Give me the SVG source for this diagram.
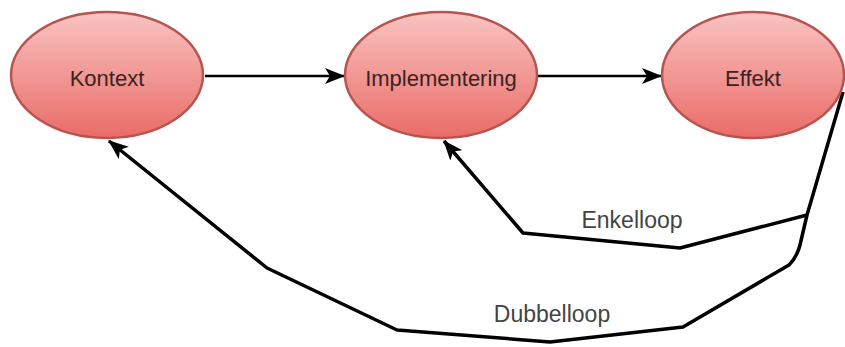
<svg xmlns="http://www.w3.org/2000/svg" width="845" height="347" viewBox="0 0 845 347">
  <style>
    .node { stroke: #b85450; stroke-width: 2.5; fill: url(#redGrad); }
    .nlabel { font-family: "Liberation Sans", Arial, sans-serif; font-size: 22px; fill: #3b2222; text-anchor: middle; }
    .elabel { font-family: "Liberation Sans", Arial, sans-serif; font-size: 23px; fill: #444444; text-anchor: middle; }
    .edge { fill: none; stroke: #000000; stroke-linejoin: round; stroke-linecap: butt; }
    .straight { stroke-width: 2.5; }
    .loop { stroke-width: 3.5; }
  </style>
  <defs>
    <linearGradient id="redGrad" x1="0" y1="0" x2="0" y2="1">
      <stop offset="0" stop-color="#f8c4c2"/>
      <stop offset="1" stop-color="#ea6b66"/>
    </linearGradient>
    <marker id="arrow" viewBox="0 0 20 16" refX="19" refY="8" markerWidth="20" markerHeight="16" markerUnits="userSpaceOnUse" orient="auto">
      <path d="M0,0 L20,8 L0,16 L5,8 Z" fill="#000000"/>
    </marker>
  </defs>
  <rect width="845" height="347" fill="#ffffff"/>

  <g id="connectors">
    <path class="edge straight" d="M205,76 L344,76" marker-end="url(#arrow)"/>
    <path class="edge straight" d="M537,76 L661,76" marker-end="url(#arrow)"/>
    <path class="edge loop" d="M843,92 L807,215 L800,245 Q797,257 789,265 L683,327 L550,342 L397,330 L267,268 L109,141" marker-end="url(#arrow)"/>
    <path class="edge loop" d="M807,215 L680,248 L523,233 L444,141" marker-end="url(#arrow)"/>
    <text class="elabel" x="632" y="228">Enkelloop</text>
    <text class="elabel" x="552" y="322">Dubbelloop</text>
  </g>

  <g id="kontext">
    <ellipse class="node" cx="107" cy="75" rx="96" ry="63"/>
    <text class="nlabel" x="107" y="86">Kontext</text>
  </g>
  <g id="implementering">
    <ellipse class="node" cx="441" cy="75" rx="96" ry="63"/>
    <text class="nlabel" x="441" y="86">Implementering</text>
  </g>
  <g id="effekt">
    <ellipse class="node" cx="753" cy="75" rx="91" ry="63"/>
    <text class="nlabel" x="753" y="86">Effekt</text>
  </g>
</svg>
